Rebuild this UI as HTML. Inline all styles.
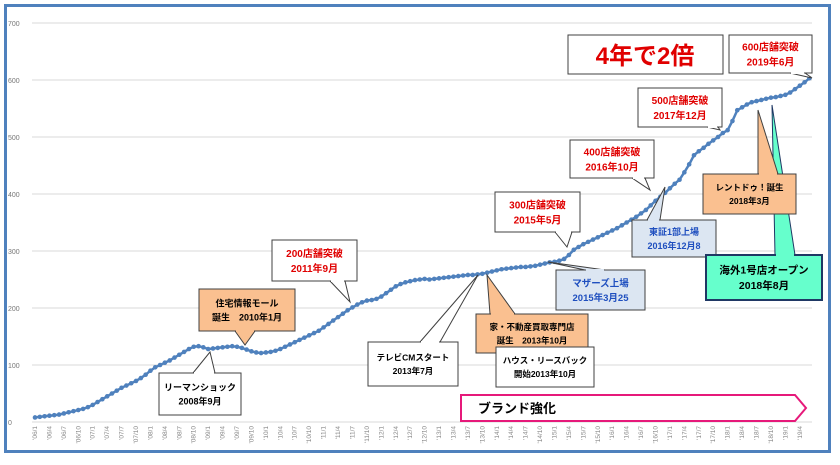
<!DOCTYPE html>
<html><head><meta charset="utf-8"><style>
body{margin:0;background:#fff;font-family:"Liberation Sans","Noto Sans CJK JP",sans-serif}
svg text{font-family:"Liberation Sans","Noto Sans CJK JP",sans-serif}
</style></head><body>
<svg id="chart" width="840" height="460" viewBox="0 0 840 460" xmlns="http://www.w3.org/2000/svg">
<rect x="0" y="0" width="840" height="460" fill="#fff"/>
<rect x="5.5" y="5.5" width="824" height="446" fill="none" stroke="#4F81BD" stroke-width="3"/>
<g id="grid"></g><g id="xlabels"></g><g id="series"></g><g id="notes"></g>
</svg>
<script>
const yTicks=[0,100,200,300,400,500,600,700];
const storeCounts=[
8,9,10,11,12,13,15,17,19,21,23,26,
30,35,40,45,50,55,60,64,68,72,77,83,
90,96,100,104,108,113,118,123,128,132,133,131,
128,129,130,131,132,133,132,130,127,124,122,121,
122,123,125,128,132,136,140,144,148,152,156,160,
166,172,178,184,190,196,201,206,210,213,214,216,
220,226,232,238,242,245,247,249,250,251,250,251,
252,253,254,255,256,257,258,258,259,260,262,264,
266,268,269,270,271,272,272,273,274,276,278,280,
281,283,286,293,302,307,312,316,320,324,328,332,
336,340,345,350,355,360,366,372,380,388,395,402,
410,418,425,438,452,468,475,481,488,494,500,507,
512,528,547,552,557,561,563,565,567,569,570,572,
574,578,584,590,596,603];
const startYear=2006;
const NS="http://www.w3.org/2000/svg";
function X(i){return 35+i*4.81;}
function Y(v){return 422-v*0.57;}
function mk(tag,attrs,parent){const e=document.createElementNS(NS,tag);for(const k in attrs)e.setAttribute(k,attrs[k]);parent.appendChild(e);return e;}
const grid=document.getElementById('grid');
yTicks.forEach(t=>{
 const l=mk('line',{x1:32,x2:812,y1:Y(t),y2:Y(t),stroke:'#d9d9d9','stroke-width':1},grid);
 
 
 const tx=mk('text',{x:8,y:Y(t)+3,'font-size':7,fill:'#777'},grid);
 tx.textContent=t;
 
 
});
const xl=document.getElementById('xlabels');
for(let i=0;i<storeCounts.length;i+=3){
 const yr=startYear+Math.floor(i/12), m=i%12+1;
 const lab="'"+String(yr).slice(2)+"/"+m;
 const tx=mk('text',{x:0,y:0,'font-size':6.5,fill:'#888','text-anchor':'end',transform:'translate('+(X(i)+2)+',426) rotate(-90)'},xl);
 tx.textContent=lab;
 
 
}
const ser=document.getElementById('series');
const pts=storeCounts.map((v,i)=>X(i).toFixed(1)+','+Y(v).toFixed(1)).join(' ');
const pl=mk('polyline',{points:pts,fill:'none',stroke:'#4F81BD','stroke-width':2.5},ser);


storeCounts.forEach((v,i)=>{
 const c=mk('circle',{cx:X(i),cy:Y(v),r:2.3,fill:'#4F81BD'},ser);
 
 
});
const notes=document.getElementById('notes');
function callout(name,x,y,w,h,tip,base,fill,lines,color,fs,bw){
 const g=mk('g',{},notes);
 
 
 if(tip){mk('polygon',{points:base[0]+','+base[1]+' '+tip[0]+','+tip[1]+' '+base[2]+','+base[3],fill:fill,stroke:bw?'#1F3864':'#404040','stroke-width':1},g);}
 mk('rect',{x:x,y:y,width:w,height:h,fill:fill,stroke:bw?'#1F3864':'#404040','stroke-width':bw||1},g);
 if(tip){mk('line',{x1:base[0]+1,y1:base[1],x2:base[2]-1,y2:base[3],stroke:fill,'stroke-width':2},g);}
 lines.forEach((t,k)=>{const tx=mk('text',{x:x+w/2,y:y+h/2+(k-(lines.length-1)/2)*(fs+5)+fs*0.38,'font-size':fs,'font-weight':'bold',fill:color,'text-anchor':'middle'},g);tx.textContent=t;});
}
callout('lehman-shock-note',159,373,82,42,[210,352],[193,373,215,373],'#fff',['リーマンショック','2008年9月'],'#000',9);
callout('jutaku-mall-note',199,289,96,42,[245,345],[235,331,255,331],'#FAC090',['住宅情報モール','誕生　2010年1月'],'#000',9);
callout('store-200-note',272,240,85,41,[350,302],[330,281,345,281],'#fff',['200店舗突破','2011年9月'],'#E00000',10);
callout('tvcm-note',368,342,90,44,[478,275],[420,342,440,342],'#fff',['テレビCMスタート','2013年7月'],'#000',8.5);
callout('realestate-shop-note',476,314,112,39,[487,275],[490,314,515,314],'#FAC090',['家・不動産買取専門店','誕生　2013年10月'],'#000',8.5);
callout('leaseback-note',496,347,98,40,null,null,'#fff',['ハウス・リースバック','開始2013年10月'],'#000',8.5);
callout('store-300-note',495,192,85,40,[567,247],[555,232,572,232],'#fff',['300店舗突破','2015年5月'],'#E00000',10);
callout('mothers-note',556,270,89,40,[548,262],[585,270,605,270],'#DCE6F2',['マザーズ上場','2015年3月25'],'#1F4FBF',9.5);
callout('store-400-note',570,140,84,38,[650,190],[632,178,645,178],'#fff',['400店舗突破','2016年10月'],'#E00000',10);
callout('tse1-note',632,220,84,37,[665,187],[647,220,660,220],'#DCE6F2',['東証1部上場','2016年12月8'],'#1F4FBF',9);
callout('store-500-note',638,88,84,39,[720,130],[707,127,718,127],'#fff',['500店舗突破','2017年12月'],'#E00000',10);
callout('store-600-note',729,35,83,38,[812,78],[790,73,805,73],'#fff',['600店舗突破','2019年6月'],'#E00000',10);
callout('overseas-note',706,255,116,45,[772,105],[775,255,795,255],'#66FFCC',['海外1号店オープン','2018年8月'],'#000',10.5,2);
callout('rentdo-note',703,174,93,40,[758,110],[758,174,778,174],'#FAC090',['レントドゥ！誕生','2018年3月'],'#000',8.5);
const dbl=mk('g',{},notes);


mk('rect',{x:568,y:35,width:155,height:39,fill:'#fff',stroke:'#404040'},dbl);
const dt=mk('text',{x:645,y:64,'font-size':24,'font-weight':'bold',fill:'#E00000','text-anchor':'middle'},dbl);dt.textContent='4年で2倍';
const br=mk('g',{},notes);


mk('polygon',{points:'461,395 795,395 806,408 795,421 461,421',fill:'#fff',stroke:'#E6197A','stroke-width':2},br);
const bt=mk('text',{x:478,y:413,'font-size':13,'font-weight':'bold',fill:'#000'},br);bt.textContent='ブランド強化';
</script>
</body></html>
